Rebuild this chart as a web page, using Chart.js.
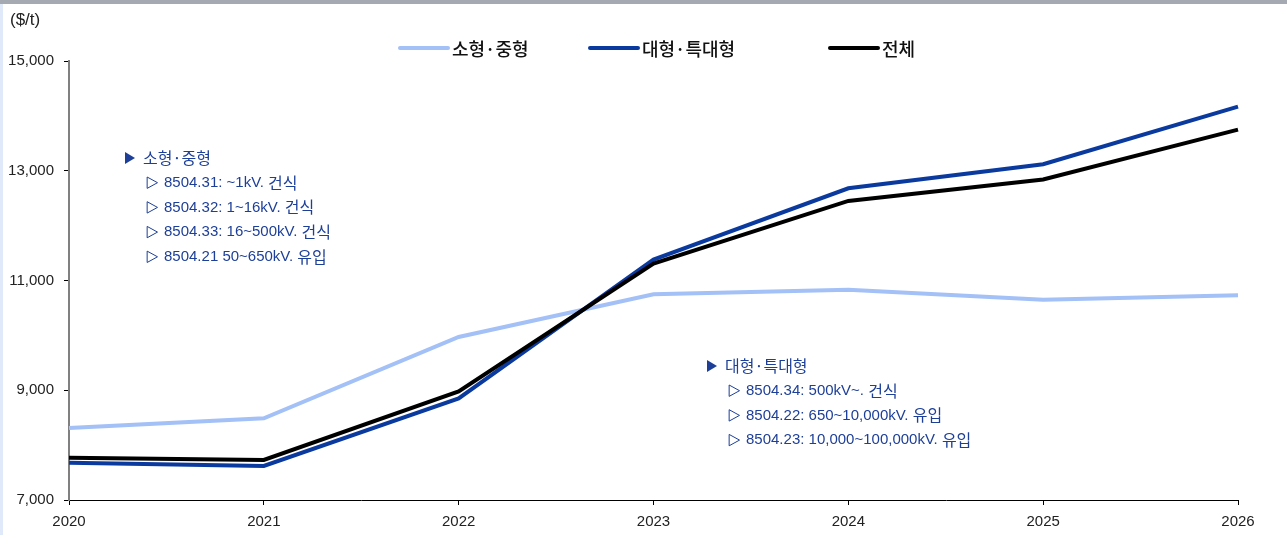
<!DOCTYPE html>
<html>
<head>
<meta charset="utf-8">
<script src="https://cdn.jsdelivr.net/npm/chart.js@4/dist/chart.umd.min.js"></script>
<style>
  html, body { margin: 0; padding: 0; background: #fff; }
  #wrap { position: relative; width: 1287px; height: 535px; }
  #topbar { position: absolute; left: 0; top: 0; width: 1287px; height: 4px; background: #a5a9b1; }
  #leftbar { position: absolute; left: 0; top: 4px; width: 3px; height: 531px; background: #e0e9f9; }
</style>
</head>
<body>
<div id="wrap">
  <canvas id="chart" width="1287" height="535"></canvas>
  <div id="topbar"></div>
  <div id="leftbar"></div>
</div>
<script>
// datos
const years = ['2020', '2021', '2022', '2023', '2024', '2025', '2026'];
const seriesNames = ['소형·중형', '대형·특대형', '전체'];
const smallMid = [8310, 8490, 9970, 10750, 10830, 10650, 10730];
const largeXL = [7680, 7620, 8850, 11380, 12680, 13120, 14170];
const total = [7770, 7730, 8980, 11310, 12450, 12840, 13750];
const yTicks = [7000, 9000, 11000, 13000, 15000];
const unitLabel = '($/t)';
const noteSmall = ['소형·중형', '8504.31: ~1kV. 건식', '8504.32: 1~16kV. 건식', '8504.33: 16~500kV. 건식', '8504.21 50~650kV. 유입'];
const noteLarge = ['대형·특대형', '8504.34: 500kV~. 건식', '8504.22: 650~10,000kV. 유입', '8504.23: 10,000~100,000kV. 유입'];

const colors = ['#a3c0f7', '#0b3a9f', '#000000'];
const latin = '"Liberation Sans", Arial, sans-serif';
const korean = '"Noto Sans CJK KR", sans-serif';
const noteColor = '#1d3f98';

// texto mixto: latino en Liberation, coreano algo más grande
function mixedText(ctx, text, x, y) {
    const parts = text.match(/[\uAC00-\uD7A3]+|[^\uAC00-\uD7A3]+/g) || [];
    parts.forEach(p => {
        if (/[\uAC00-\uD7A3]/.test(p)) {
            ctx.font = '16px ' + korean;
        } else {
            ctx.font = '15px ' + latin;
        }
        ctx.fillText(p, x, y);
        x += ctx.measureText(p).width;
    });
}

function drawNote(ctx, lines, x, y) {
    ctx.textBaseline = 'middle';
    ctx.textAlign = 'left';
    lines.forEach((t, i) => {
        const yy = y + i * 24.7;
        ctx.fillStyle = noteColor;
        if (i === 0) {
            ctx.beginPath();
            ctx.moveTo(x, yy - 6);
            ctx.lineTo(x + 10, yy);
            ctx.lineTo(x, yy + 6);
            ctx.closePath();
            ctx.fill();
            ctx.font = '16px ' + korean;
            ctx.fillText(t, x + 18, yy);
        } else {
            ctx.strokeStyle = noteColor;
            ctx.lineWidth = 1;
            ctx.beginPath();
            ctx.moveTo(x + 22.5, yy - 5.5);
            ctx.lineTo(x + 32.5, yy);
            ctx.lineTo(x + 22.5, yy + 5.5);
            ctx.closePath();
            ctx.stroke();
            mixedText(ctx, t, x + 39, yy);
        }
    });
}

// leyenda, unidad y notas dibujadas a mano
const extras = {
    id: 'extras',
    afterDraw(chart) {
        const ctx = chart.ctx;
        ctx.save();

        // unidad
        ctx.fillStyle = '#222';
        ctx.font = '17px ' + latin;
        ctx.textBaseline = 'middle';
        ctx.textAlign = 'left';
        ctx.fillText(unitLabel, 10, 20);

        // leyenda
        const starts = [398, 588, 828];
        const ly = 48;
        chart.data.datasets.forEach((ds, i) => {
            ctx.strokeStyle = ds.borderColor;
            ctx.lineWidth = 4;
            ctx.lineCap = 'round';
            ctx.beginPath();
            ctx.moveTo(starts[i] + 2, ly);
            ctx.lineTo(starts[i] + 50, ly);
            ctx.stroke();
            ctx.fillStyle = '#111';
            ctx.font = '500 18px ' + korean;
            ctx.fillText(ds.label, starts[i] + 54, ly + 1);
        });

        drawNote(ctx, noteSmall, 125, 158);
        drawNote(ctx, noteLarge, 707, 366);
        ctx.restore();
    }
};

const ctx = document.getElementById('chart').getContext('2d');
const chart = new Chart(ctx, {
    type: 'line',
    data: {
        labels: years,
        datasets: [smallMid, largeXL, total].map((vals, i) => ({
            label: seriesNames[i],
            data: vals,
            borderColor: colors[i],
            backgroundColor: colors[i],
            borderWidth: 4,
            pointRadius: 0,
            tension: 0,
            fill: false,
            order: 3 - i
        }))
    },
    options: {
        responsive: false,
        animation: false,
        layout: { padding: { left: 8, right: 49, top: 61, bottom: 0 } },
        plugins: {
            legend: { display: false },
            tooltip: { enabled: false }
        },
        scales: {
            x: {
                offset: false,
                grid: { drawOnChartArea: false, drawTicks: true, tickLength: 5, tickColor: '#000', tickWidth: 1 },
                border: { color: '#000', width: 1 },
                ticks: { color: '#222', font: { family: latin, size: 15 }, padding: 8, maxRotation: 0 },
                afterFit(s) { s.height = 35; }
            },
            y: {
                min: 7000,
                max: 15000,
                afterBuildTicks(s) { s.ticks = yTicks.map(v => ({ value: v })); },
                grid: { drawOnChartArea: false, drawTicks: true, tickLength: 5, tickColor: '#000', tickWidth: 1 },
                border: { color: '#808080', width: 2 },
                ticks: {
                    color: '#222',
                    font: { family: latin, size: 15 },
                    padding: 10,
                    callback: v => v.toLocaleString('en-US')
                },
                afterFit(s) { s.width = 61; }
            }
        }
    },
    plugins: [extras]
});
</script>
</body>
</html>
